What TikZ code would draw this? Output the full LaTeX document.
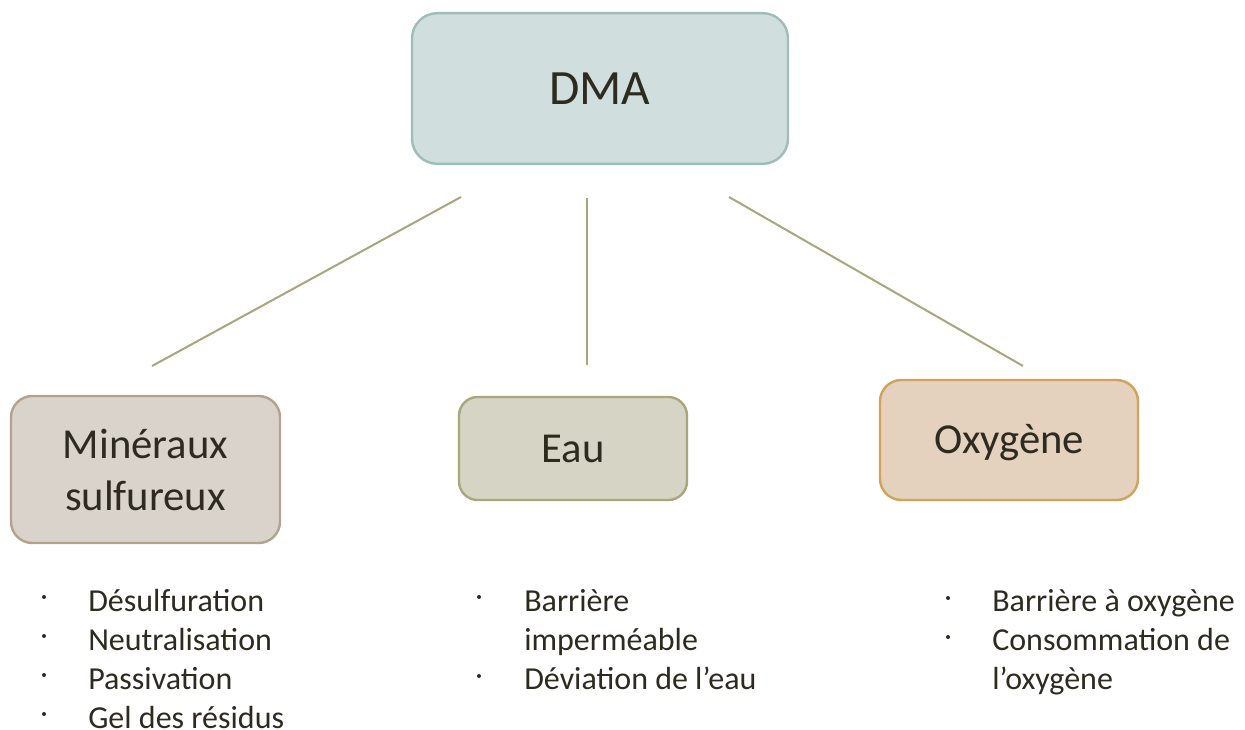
\documentclass[tikz,border=0pt]{standalone}
\usepackage{fontspec}
\setmainfont{Carlito}
\usepackage{tikz}
\definecolor{txt}{HTML}{2D2A20}
\definecolor{dmafill}{HTML}{D0DFDE}
\definecolor{dmaline}{HTML}{9DBDB9}
\definecolor{minfill}{HTML}{DAD3CB}
\definecolor{minline}{HTML}{B4A38C}
\definecolor{eaufill}{HTML}{D6D5C5}
\definecolor{eauline}{HTML}{A9A57C}
\definecolor{oxyfill}{HTML}{E4D2BF}
\definecolor{oxyline}{HTML}{D0A35B}
\tikzset{
  box/.style={rounded corners=16pt,line width=1.8pt,align=center,text=txt,
    font=\fontsize{32}{39}\selectfont},
  item/.style={anchor=base west,inner sep=0pt,text=txt,
    font=\fontsize{24}{29}\selectfont},
  puce/.style={fill=txt,circle,inner sep=0pt,minimum size=3pt},
  link/.style={draw=eauline,line width=1.5pt}
}
\begin{document}
\begin{tikzpicture}[x=0.75pt,y=-0.75pt]
\useasboundingbox (0,0) rectangle (1245,729);
% boxes
\node[box,draw=dmaline,fill=dmafill,rounded corners=19pt,minimum width=282pt,minimum height=113pt,
  font=\fontsize{37}{44}\selectfont] (dma) at (600,88.5) {DMA};
\node[box,draw=minline,fill=minfill,minimum width=201.75pt,minimum height=110.25pt] (min) at (145.5,469.5) {Minéraux\\sulfureux};
\node[box,draw=eauline,fill=eaufill,rounded corners=14pt,minimum width=171pt,minimum height=77.25pt] (eau) at (573,448.5) {Eau};
\node[box,draw=oxyline,fill=oxyfill,minimum width=193.5pt,minimum height=90pt] (oxy) at (1009,440) {};
\node[box,inner sep=0pt] (oxyt) at (1009,443) {Oxygène};
% links
\coordinate (l1a) at (461,197); \coordinate (l1b) at (152,366);
\coordinate (l2a) at (587,198); \coordinate (l2b) at (587,365);
\coordinate (l3a) at (729,197); \coordinate (l3b) at (1023,366);
\draw[link] (l1a) -- (l1b);
\draw[link] (l2a) -- (l2b);
\draw[link] (l3a) -- (l3b);
% bullet lists
\foreach \t [count=\i] in {Désulfuration,Neutralisation,Passivation,Gel des résidus}{
  \node[puce] (pm\i) at (44,{597+39*(\i-1)}) {};
  \node[item] (tm\i) at (88,{611+39*(\i-1)}) {\t};
}
\node[puce] (pe1) at (479,597) {};
\node[puce] (pe2) at (479,676) {};
\node[item] (te1) at (524,611) {Barrière};
\node[item] (te2) at (524,650) {imperméable};
\node[item] (te3) at (524,689) {Déviation de l’eau};
\node[puce] (po1) at (948,598) {};
\node[puce] (po2) at (948,637) {};
\node[item] (to1) at (992,611) {Barrière à oxygène};
\node[item] (to2) at (992,650) {Consommation de};
\node[item] (to3) at (992,689) {l’oxygène};
\end{tikzpicture}
\end{document}
